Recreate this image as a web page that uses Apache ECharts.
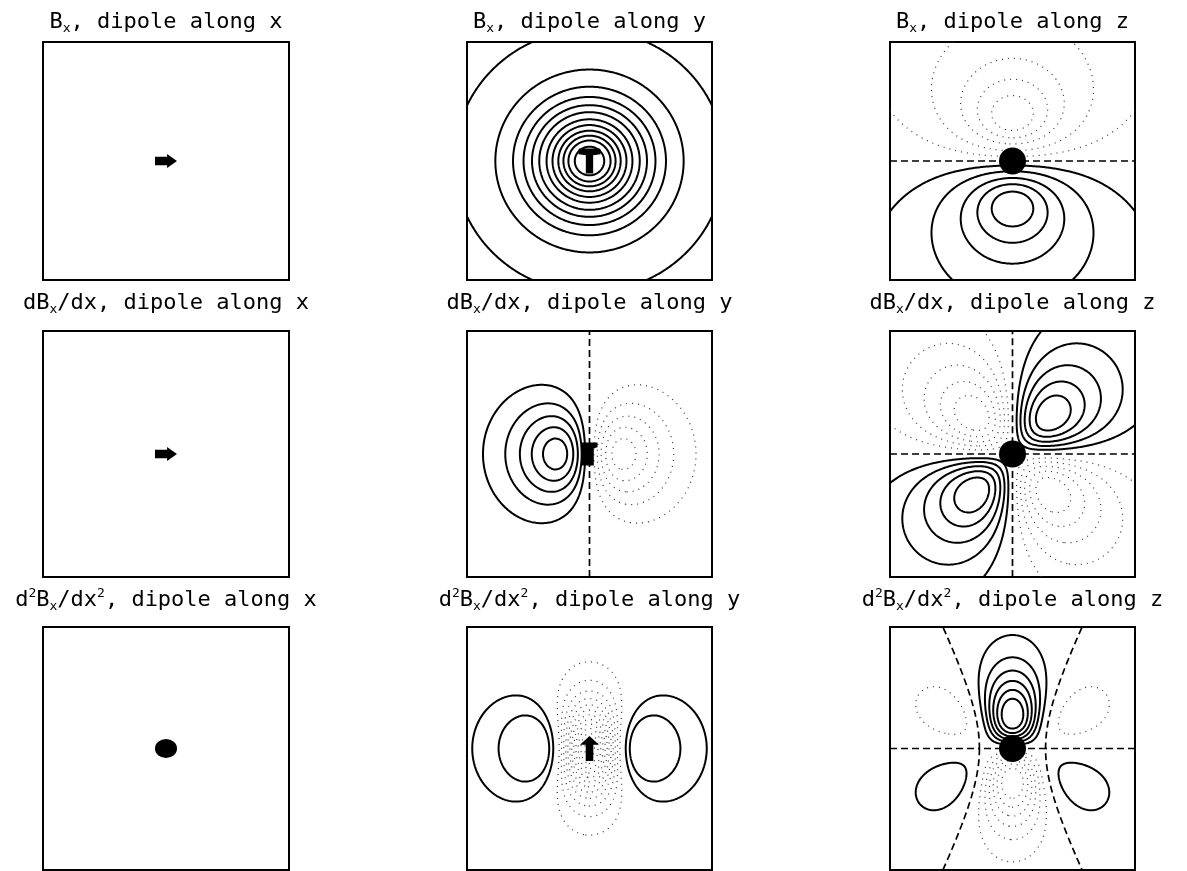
<!DOCTYPE html>
<html>
<head>
<meta charset="utf-8">
<script src="https://cdn.jsdelivr.net/npm/echarts@6/dist/echarts.min.js"></script>
<style>
  html, body { margin: 0; padding: 0; background: #fff; }
  #chart { width: 1187px; height: 871px; }
</style>
</head>
<body>
<div id="chart"></div>
<script>
// ---------------------------------------------------------------------------
// Field maps of a current dipole: rows are Bx, dBx/dx, d2Bx/dx2;
// columns are the dipole orientation (x, y, z).
// ---------------------------------------------------------------------------
const dipoleAxes = ['x', 'y', 'z'];
const quantityTitles = [
  '{n|B}{sub|x}{n|, dipole along }',
  '{n|dB}{sub|x}{n|/dx, dipole along }',
  '{n|d}{sup|2}{n|B}{sub|x}{n|/dx}{sup|2}{n|, dipole along }'
];

// depth of the dipole below the sensor plane, in half panel widths
const dipoleDepth = 0.54;

// contour levels in normalised field units (negative = dotted, 0 = dashed)
const levelsBxAlongX = [];
const levelsBxAlongY = [0.085, 0.19, 0.28, 0.355, 0.43, 0.505, 0.59, 0.665, 0.74, 0.805, 0.865, 0.93];
const levelsBxAlongZ = [-0.91, -0.78, -0.62, -0.40, -0.18, 0, 0.18, 0.40, 0.62, 0.78, 0.91];
const levelsDBxAlongX = [];
const levelsDBxAlongY = [-0.90, -0.74, -0.57, -0.40, -0.23, 0, 0.23, 0.40, 0.57, 0.74, 0.90];
const levelsDBxAlongZ = [-0.86, -0.70, -0.53, -0.36, -0.19, 0, 0.19, 0.36, 0.53, 0.70, 0.86];
const levelsD2BxAlongX = [];
const levelsD2BxAlongY = [-0.96, -0.88, -0.80, -0.72, -0.64, -0.56, -0.48, -0.40, -0.32, -0.24, -0.16, -0.08, 0.08, 0.16];
const levelsD2BxAlongZ = [-0.85, -0.72, -0.59, -0.46, -0.33, -0.19, 0, 0.19, 0.33, 0.46, 0.59, 0.72, 0.85];

const contourLevels = [
  [levelsBxAlongX, levelsBxAlongY, levelsBxAlongZ],
  [levelsDBxAlongX, levelsDBxAlongY, levelsDBxAlongZ],
  [levelsD2BxAlongX, levelsD2BxAlongY, levelsD2BxAlongZ]
];

// ---------------------------------------------------------------------------
// Biot-Savart field of the dipole, each map scaled to its own peak
// ---------------------------------------------------------------------------
const z = dipoleDepth;
const z2 = z * z;
const fieldMaps = [
  [
    null,                                                        // Bx, dipole along x: zero
    (x, y) => Math.pow(z2 / (x * x + y * y + z2), 1.5),          // Bx, dipole along y
    (x, y) => -y * z2 / (0.3849 * Math.pow(x * x + y * y + z2, 1.5))
  ],
  [
    null,
    (x, y) => -x * z2 * z2 / (0.2862 * Math.pow(x * x + y * y + z2, 2.5)),
    (x, y) => x * y * z2 * z / (0.09295 * Math.pow(x * x + y * y + z2, 2.5))
  ],
  [
    null,
    (x, y) => (4 * x * x - y * y - z2) * z2 * z2 * z / Math.pow(x * x + y * y + z2, 3.5),
    (x, y) => y * (y * y + z2 - 4 * x * x) * z2 * z2 / (0.2862 * Math.pow(x * x + y * y + z2, 3.5))
  ]
];

// marching squares on an n x n grid over [-1, 1]^2, returns joined polylines
function traceContours(fn, level, n) {
  const xs = [];
  for (let i = 0; i < n; i++) xs.push(-1 + 2 * i / (n - 1));
  const vals = [];
  for (let j = 0; j < n; j++) {
    const row = [];
    for (let i = 0; i < n; i++) row.push(fn(xs[i], xs[j]) - level);
    vals.push(row);
  }
  const pts = new Map();
  const adj = new Map();
  function pt(key, x1, y1, v1, x2, y2, v2) {
    if (!pts.has(key)) {
      const t = v1 / (v1 - v2);
      pts.set(key, [x1 + t * (x2 - x1), y1 + t * (y2 - y1)]);
    }
    return key;
  }
  function link(p, q) {
    if (!adj.has(p)) adj.set(p, []);
    if (!adj.has(q)) adj.set(q, []);
    adj.get(p).push(q);
    adj.get(q).push(p);
  }
  for (let j = 0; j < n - 1; j++) {
    for (let i = 0; i < n - 1; i++) {
      const a = vals[j][i], b = vals[j][i + 1], c = vals[j + 1][i + 1], d = vals[j + 1][i];
      const idx = (a > 0 ? 1 : 0) | (b > 0 ? 2 : 0) | (c > 0 ? 4 : 0) | (d > 0 ? 8 : 0);
      if (idx === 0 || idx === 15) continue;
      const B = () => pt('h' + i + ',' + j, xs[i], xs[j], a, xs[i + 1], xs[j], b);
      const R = () => pt('v' + (i + 1) + ',' + j, xs[i + 1], xs[j], b, xs[i + 1], xs[j + 1], c);
      const T = () => pt('h' + i + ',' + (j + 1), xs[i], xs[j + 1], d, xs[i + 1], xs[j + 1], c);
      const L = () => pt('v' + i + ',' + j, xs[i], xs[j], a, xs[i], xs[j + 1], d);
      const centre = (a + b + c + d) / 4 > 0;
      switch (idx) {
        case 1: case 14: link(L(), B()); break;
        case 2: case 13: link(B(), R()); break;
        case 3: case 12: link(L(), R()); break;
        case 4: case 11: link(R(), T()); break;
        case 6: case 9: link(B(), T()); break;
        case 7: case 8: link(T(), L()); break;
        case 5:
          if (centre) { link(B(), R()); link(T(), L()); }
          else { link(L(), B()); link(R(), T()); }
          break;
        case 10:
          if (centre) { link(L(), B()); link(R(), T()); }
          else { link(B(), R()); link(T(), L()); }
          break;
      }
    }
  }
  const visited = new Set();
  const chains = [];
  function walk(start) {
    const chain = [pts.get(start)];
    visited.add(start);
    let cur = start;
    for (;;) {
      const next = adj.get(cur).find(k => !visited.has(k));
      if (next === undefined) {
        if (chain.length > 2 && adj.get(cur).includes(start)) chain.push(pts.get(start));
        break;
      }
      visited.add(next);
      chain.push(pts.get(next));
      cur = next;
    }
    return chain;
  }
  for (const [k, nb] of adj) if (nb.length === 1 && !visited.has(k)) chains.push(walk(k));
  for (const k of adj.keys()) if (!visited.has(k)) chains.push(walk(k));
  return chains.filter(ch => ch.length > 1);
}

// ---------------------------------------------------------------------------
// Layout and styling
// ---------------------------------------------------------------------------
const colLeft = [43, 467, 890];
const colWidth = [246, 245, 245];
const rowTop = [42, 331, 627];
const rowHeight = [238, 246, 243];
const titleTop = [9, 290, 587];

const arrowRight = 'path://M0,2.5 L11,2.5 L11,0 L20,6.5 L11,13 L11,10.5 L0,10.5 Z';
const arrowUpTee = 'path://M0,1 L1,0 L23,0 L24,1 L24,6 L16,7 L16,26 L8,26 L8,7 L0,6 Z';
const arrowUpBlock = 'path://M3,0 L16,0 L16,5 L13,6 L13,24 L3,24 Z';
const arrowUp = 'path://M10,0 L20,9 L14,9 L14,26 L6,26 L6,9 L0,9 Z';
const markerSymbols = [
  [[arrowRight, [22, 14]], [arrowUpTee, [22, 25]], ['circle', 27]],
  [[arrowRight, [22, 14]], [arrowUpBlock, [16, 23]], ['circle', 27]],
  [['circle', [22, 19]], [arrowUp, [19, 25]], ['circle', 27]]
];

const solidStyle = { color: '#000', width: 2, type: 'solid', opacity: 1 };
const dottedStyle = { color: '#333', width: 1.2, type: [1, 5], opacity: 1 };
const dashedStyle = { color: '#000', width: 1.7, type: [7, 4], opacity: 1 };

const GRID_N = 200;
const grids = [], xAxes = [], yAxes = [], series = [], graphics = [];

const richStyles = {
  n: { fontFamily: 'DejaVu Sans Mono', fontSize: 22, lineHeight: 26, verticalAlign: 'middle', color: '#000' },
  sub: { fontFamily: 'DejaVu Sans Mono', fontSize: 13, lineHeight: 20, verticalAlign: 'bottom', color: '#000' },
  sup: { fontFamily: 'DejaVu Sans Mono', fontSize: 13, lineHeight: 18, verticalAlign: 'top', color: '#000' }
};

for (let r = 0; r < 3; r++) {
  for (let c = 0; c < 3; c++) {
    const k = r * 3 + c;
    grids.push({
      left: colLeft[c], top: rowTop[r], width: colWidth[c], height: rowHeight[r],
      show: true, borderColor: '#000', borderWidth: 2, backgroundColor: '#fff'
    });
    xAxes.push({ type: 'value', gridIndex: k, min: -1, max: 1, show: false });
    yAxes.push({ type: 'value', gridIndex: k, min: -1, max: 1, show: false });

    const fn = fieldMaps[r][c];
    const buckets = { solid: [], dotted: [], dashed: [] };
    if (fn) {
      for (const lv of contourLevels[r][c]) {
        const chains = traceContours(fn, lv, GRID_N);
        const bucket = lv > 0 ? buckets.solid : (lv < 0 ? buckets.dotted : buckets.dashed);
        for (const ch of chains) bucket.push({ coords: ch });
      }
    }
    const styleOf = { solid: solidStyle, dotted: dottedStyle, dashed: dashedStyle };
    for (const kind of ['dotted', 'dashed', 'solid']) {
      if (!buckets[kind].length) continue;
      series.push({
        type: 'lines', coordinateSystem: 'cartesian2d', xAxisIndex: k, yAxisIndex: k,
        polyline: true, silent: true, large: false, animation: false,
        lineStyle: styleOf[kind], data: buckets[kind], z: 2
      });
    }

    const [sym, size] = markerSymbols[r][c];
    series.push({
      type: 'scatter', xAxisIndex: k, yAxisIndex: k, silent: true, animation: false,
      symbol: sym, symbolSize: size, itemStyle: { color: '#000', opacity: 1 },
      data: [[0, 0]], z: 5
    });

    graphics.push({
      type: 'text', silent: true,
      x: colLeft[c] + colWidth[c] / 2, y: titleTop[r],
      style: {
        text: quantityTitles[r].replace('along }', 'along ' + dipoleAxes[c] + '}'),
        align: 'center', verticalAlign: 'top', rich: richStyles, fill: '#000',
        font: '22px "DejaVu Sans Mono"'
      }
    });
  }
}

const chart = echarts.init(document.getElementById('chart'), null, { renderer: 'canvas' });
chart.setOption({
  backgroundColor: '#fff',
  animation: false,
  grid: grids,
  xAxis: xAxes,
  yAxis: yAxes,
  series: series,
  graphic: graphics
});
</script>
</body>
</html>
